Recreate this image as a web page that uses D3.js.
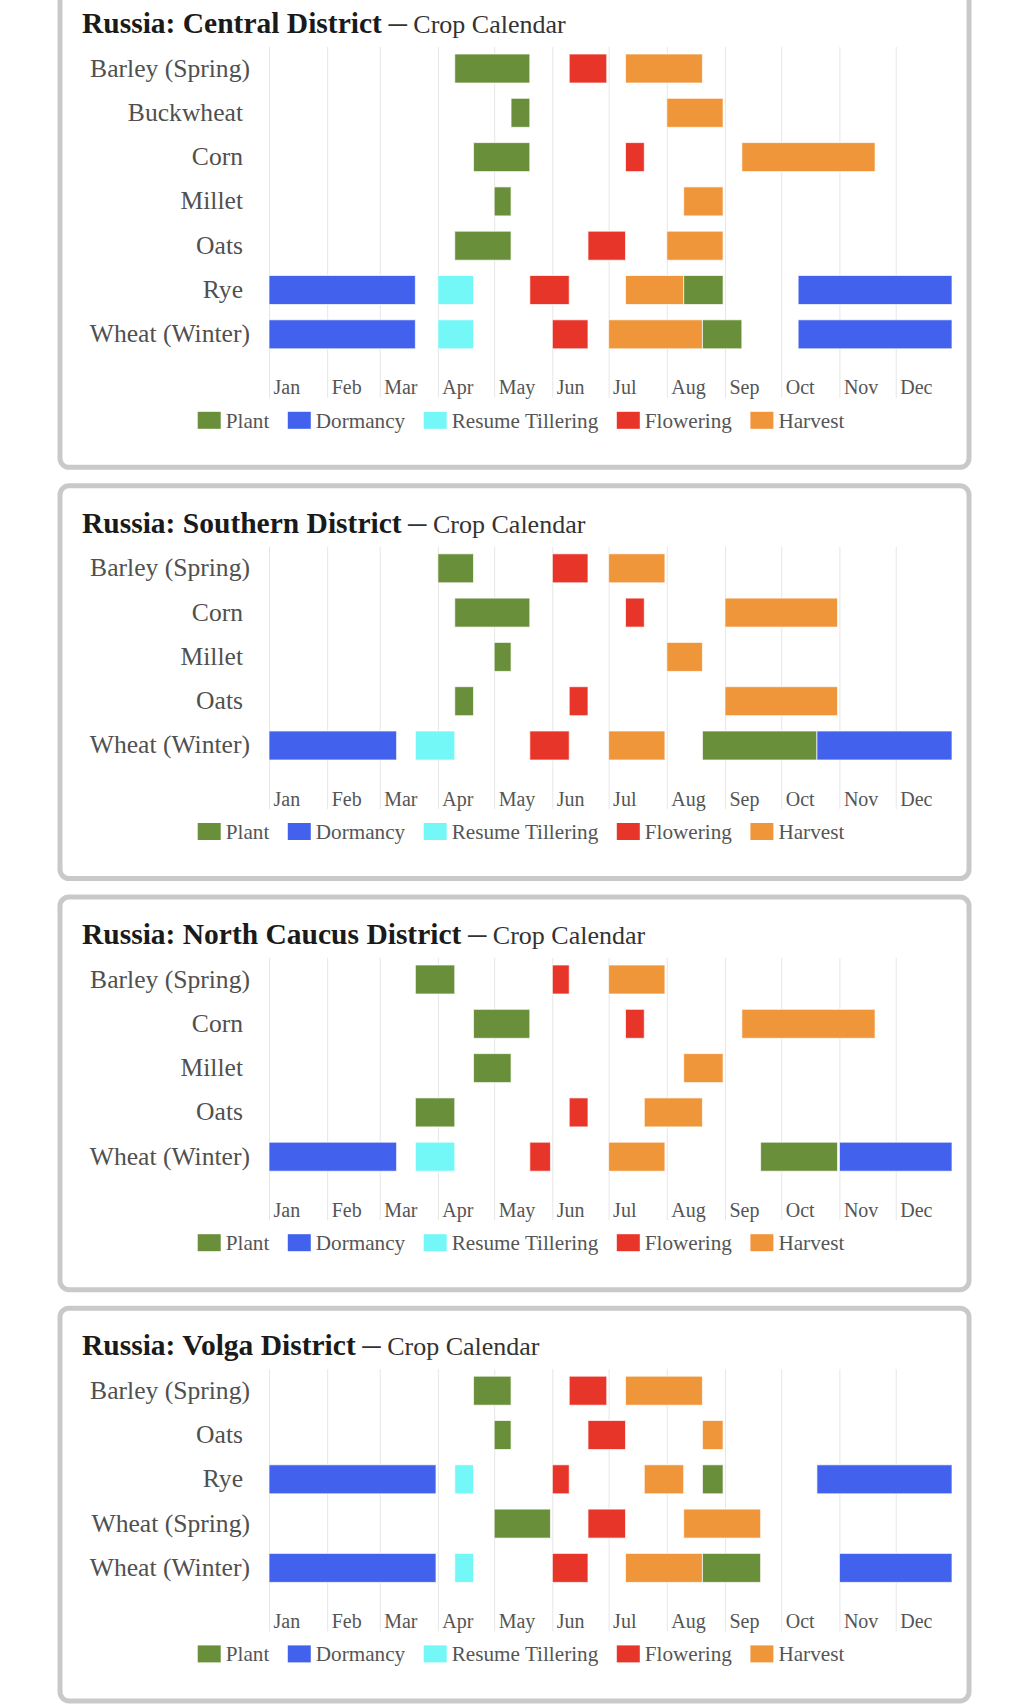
<!DOCTYPE html>
<html>
<head>
<meta charset="utf-8">
<script src="https://d3js.org/d3.v7.min.js"></script>
<style>
  body { margin: 0; background: #fff; }
  svg text { font-family: "Liberation Serif", "Times New Roman", serif; }
</style>
</head>
<body>
<script>
// ---- data ----
var months = ["Jan", "Feb", "Mar", "Apr", "May", "Jun", "Jul", "Aug", "Sep", "Oct", "Nov", "Dec"];
var phases = ["Plant", "Dormancy", "Resume Tillering", "Flowering", "Harvest"];
var phaseColors = ["#6a8f3a", "#4262ee", "#74f7f7", "#e8352a", "#f0963a"];

var districtNames = ["Russia: Central District", "Russia: Southern District",
                     "Russia: North Caucus District", "Russia: Volga District"];

var centralCrops = ["Barley (Spring)", "Buckwheat", "Corn", "Millet", "Oats", "Rye", "Wheat (Winter)"];
var centralTasks = [
  ["Barley (Spring)", "Plant", "04-10", "05-20"],
  ["Barley (Spring)", "Flowering", "06-10", "06-30"],
  ["Barley (Spring)", "Harvest", "07-10", "08-20"],
  ["Buckwheat", "Plant", "05-10", "05-20"],
  ["Buckwheat", "Harvest", "08-01", "08-31"],
  ["Corn", "Plant", "04-20", "05-20"],
  ["Corn", "Flowering", "07-10", "07-20"],
  ["Corn", "Harvest", "09-10", "11-20"],
  ["Millet", "Plant", "05-01", "05-10"],
  ["Millet", "Harvest", "08-10", "08-31"],
  ["Oats", "Plant", "04-10", "05-10"],
  ["Oats", "Flowering", "06-20", "07-10"],
  ["Oats", "Harvest", "08-01", "08-31"],
  ["Rye", "Dormancy", "01-01", "03-20"],
  ["Rye", "Resume Tillering", "04-01", "04-20"],
  ["Rye", "Flowering", "05-20", "06-10"],
  ["Rye", "Harvest", "07-10", "08-10"],
  ["Rye", "Plant", "08-10", "08-31"],
  ["Rye", "Dormancy", "10-10", "12-31"],
  ["Wheat (Winter)", "Dormancy", "01-01", "03-20"],
  ["Wheat (Winter)", "Resume Tillering", "04-01", "04-20"],
  ["Wheat (Winter)", "Flowering", "06-01", "06-20"],
  ["Wheat (Winter)", "Harvest", "07-01", "08-20"],
  ["Wheat (Winter)", "Plant", "08-20", "09-10"],
  ["Wheat (Winter)", "Dormancy", "10-10", "12-31"]
];

var southernCrops = ["Barley (Spring)", "Corn", "Millet", "Oats", "Wheat (Winter)"];
var southernTasks = [
  ["Barley (Spring)", "Plant", "04-01", "04-20"],
  ["Barley (Spring)", "Flowering", "06-01", "06-20"],
  ["Barley (Spring)", "Harvest", "07-01", "07-31"],
  ["Corn", "Plant", "04-10", "05-20"],
  ["Corn", "Flowering", "07-10", "07-20"],
  ["Corn", "Harvest", "09-01", "10-31"],
  ["Millet", "Plant", "05-01", "05-10"],
  ["Millet", "Harvest", "08-01", "08-20"],
  ["Oats", "Plant", "04-10", "04-20"],
  ["Oats", "Flowering", "06-10", "06-20"],
  ["Oats", "Harvest", "09-01", "10-31"],
  ["Wheat (Winter)", "Dormancy", "01-01", "03-10"],
  ["Wheat (Winter)", "Resume Tillering", "03-20", "04-10"],
  ["Wheat (Winter)", "Flowering", "05-20", "06-10"],
  ["Wheat (Winter)", "Harvest", "07-01", "07-31"],
  ["Wheat (Winter)", "Plant", "08-20", "10-20"],
  ["Wheat (Winter)", "Dormancy", "10-20", "12-31"]
];

var caucusCrops = ["Barley (Spring)", "Corn", "Millet", "Oats", "Wheat (Winter)"];
var caucusTasks = [
  ["Barley (Spring)", "Plant", "03-20", "04-10"],
  ["Barley (Spring)", "Flowering", "06-01", "06-10"],
  ["Barley (Spring)", "Harvest", "07-01", "07-31"],
  ["Corn", "Plant", "04-20", "05-20"],
  ["Corn", "Flowering", "07-10", "07-20"],
  ["Corn", "Harvest", "09-10", "11-20"],
  ["Millet", "Plant", "04-20", "05-10"],
  ["Millet", "Harvest", "08-10", "08-31"],
  ["Oats", "Plant", "03-20", "04-10"],
  ["Oats", "Flowering", "06-10", "06-20"],
  ["Oats", "Harvest", "07-20", "08-20"],
  ["Wheat (Winter)", "Dormancy", "01-01", "03-10"],
  ["Wheat (Winter)", "Resume Tillering", "03-20", "04-10"],
  ["Wheat (Winter)", "Flowering", "05-20", "05-31"],
  ["Wheat (Winter)", "Harvest", "07-01", "07-31"],
  ["Wheat (Winter)", "Plant", "09-20", "10-31"],
  ["Wheat (Winter)", "Dormancy", "11-01", "12-31"]
];

var volgaCrops = ["Barley (Spring)", "Oats", "Rye", "Wheat (Spring)", "Wheat (Winter)"];
var volgaTasks = [
  ["Barley (Spring)", "Plant", "04-20", "05-10"],
  ["Barley (Spring)", "Flowering", "06-10", "06-30"],
  ["Barley (Spring)", "Harvest", "07-10", "08-20"],
  ["Oats", "Plant", "05-01", "05-10"],
  ["Oats", "Flowering", "06-20", "07-10"],
  ["Oats", "Harvest", "08-20", "08-31"],
  ["Rye", "Dormancy", "01-01", "03-31"],
  ["Rye", "Resume Tillering", "04-10", "04-20"],
  ["Rye", "Flowering", "06-01", "06-10"],
  ["Rye", "Harvest", "07-20", "08-10"],
  ["Rye", "Plant", "08-20", "08-31"],
  ["Rye", "Dormancy", "10-20", "12-31"],
  ["Wheat (Spring)", "Plant", "05-01", "05-31"],
  ["Wheat (Spring)", "Flowering", "06-20", "07-10"],
  ["Wheat (Spring)", "Harvest", "08-10", "09-20"],
  ["Wheat (Winter)", "Dormancy", "01-01", "03-31"],
  ["Wheat (Winter)", "Resume Tillering", "04-10", "04-20"],
  ["Wheat (Winter)", "Flowering", "06-01", "06-20"],
  ["Wheat (Winter)", "Harvest", "07-10", "08-20"],
  ["Wheat (Winter)", "Plant", "08-20", "09-20"],
  ["Wheat (Winter)", "Dormancy", "11-01", "12-31"]
];

var districtCrops = [centralCrops, southernCrops, caucusCrops, volgaCrops];
var districtTasks = [centralTasks, southernTasks, caucusTasks, volgaTasks];

// ---- layout ----
var W = 1030, H = 1704;
var panelX = 60, panelW = 909, panelGap = 18.5;
var rowStep = 44.3, barH = 29;
var firstRow = 82.5;       // centre of first row, from panel top
var labelRight = 250;

var parse = d3.timeParse("%Y-%m-%d");
function day(s) { return parse("2021-" + s); }

var x = d3.scaleTime()
    .domain([day("01-01"), day("12-31")])
    .range([269, 952]);

var color = d3.scaleOrdinal().domain(phases).range(phaseColors);

var svg = d3.select("body").append("svg")
    .attr("width", W)
    .attr("height", H);

var panelTop = -14;

districtNames.forEach(function(name, k) {
  var crops = districtCrops[k],
      tasks = districtTasks[k],
      n = crops.length;

  var lastCentre = firstRow + (n - 1) * rowStep;
  var gridTop = firstRow - 21.5,
      gridBottom = lastCentre + 63.5,
      panelH = gridBottom + 69.5;

  var g = svg.append("g").attr("transform", "translate(0," + panelTop + ")");

  g.append("rect")
    .attr("x", panelX).attr("y", 0)
    .attr("width", panelW).attr("height", panelH)
    .attr("rx", 9)
    .attr("fill", "#fff")
    .attr("stroke", "#c9c9c9")
    .attr("stroke-width", 5);

  // title
  var title = g.append("text")
    .attr("x", 82).attr("y", 47);
  title.append("tspan")
    .attr("font-weight", "bold")
    .attr("font-size", 29.5)
    .attr("fill", "#1a1a1a")
    .text(name);
  title.append("tspan")
    .attr("font-size", 26)
    .attr("fill", "#333")
    .text(" \u2500 Crop Calendar");

  var y = d3.scaleBand()
    .domain(crops)
    .range([firstRow - rowStep / 2, firstRow - rowStep / 2 + n * rowStep])
    .paddingInner(1 - barH / rowStep)
    .paddingOuter((1 - barH / rowStep) / 2);

  // gridlines + month labels
  var axis = d3.axisBottom(x)
    .ticks(d3.timeMonth.every(1))
    .tickSize(-(gridBottom - gridTop))
    .tickFormat(function(d) { return months[d.getMonth()]; });

  var ax = g.append("g")
    .attr("transform", "translate(0," + gridBottom + ")")
    .call(axis);
  ax.select(".domain").remove();
  ax.selectAll(".tick line").attr("stroke", "#e6e6e6");
  ax.selectAll(".tick text")
    .attr("x", 4).attr("y", -3.5).attr("dy", 0)
    .attr("text-anchor", "start")
    .attr("font-size", 20)
    .attr("font-family", "Liberation Serif, serif")
    .attr("fill", "#555");

  // row labels
  g.selectAll(".rowlabel")
    .data(crops)
    .enter().append("text")
    .attr("class", "rowlabel")
    .attr("x", function(d) { return /\)$/.test(d) ? labelRight : labelRight - 7; })
    .attr("y", function(d) { return y(d) + y.bandwidth() / 2 + 8; })
    .attr("text-anchor", "end")
    .attr("font-size", 25.6)
    .attr("fill", "#505050")
    .text(function(d) { return d; });

  // bars
  g.selectAll(".bar")
    .data(tasks)
    .enter().append("rect")
    .attr("class", "bar")
    .attr("x", function(d) { return x(day(d[2])); })
    .attr("y", function(d) { return y(d[0]); })
    .attr("width", function(d) { return x(day(d[3])) - x(day(d[2])); })
    .attr("height", y.bandwidth())
    .attr("fill", function(d) { return color(d[1]); })
    .attr("stroke", "#fff")
    .attr("stroke-opacity", 0.7)
    .attr("stroke-width", 1);

  // legend
  var leg = g.append("g");
  var cx = 0;
  phases.forEach(function(p) {
    var item = leg.append("g").attr("transform", "translate(" + cx + ",0)");
    item.append("rect")
      .attr("x", 0).attr("y", gridBottom + 14)
      .attr("width", 23).attr("height", 17)
      .attr("fill", color(p));
    var t = item.append("text")
      .attr("x", 28).attr("y", gridBottom + 30)
      .attr("font-size", 21.2)
      .attr("fill", "#555")
      .text(p);
    cx += 28 + t.node().getComputedTextLength() + 18.5;
  });
  var legW = cx - 18.5;
  leg.attr("transform", "translate(" + (521 - legW / 2) + ",0)");

  panelTop += panelH + panelGap;
});
</script>
</body>
</html>
